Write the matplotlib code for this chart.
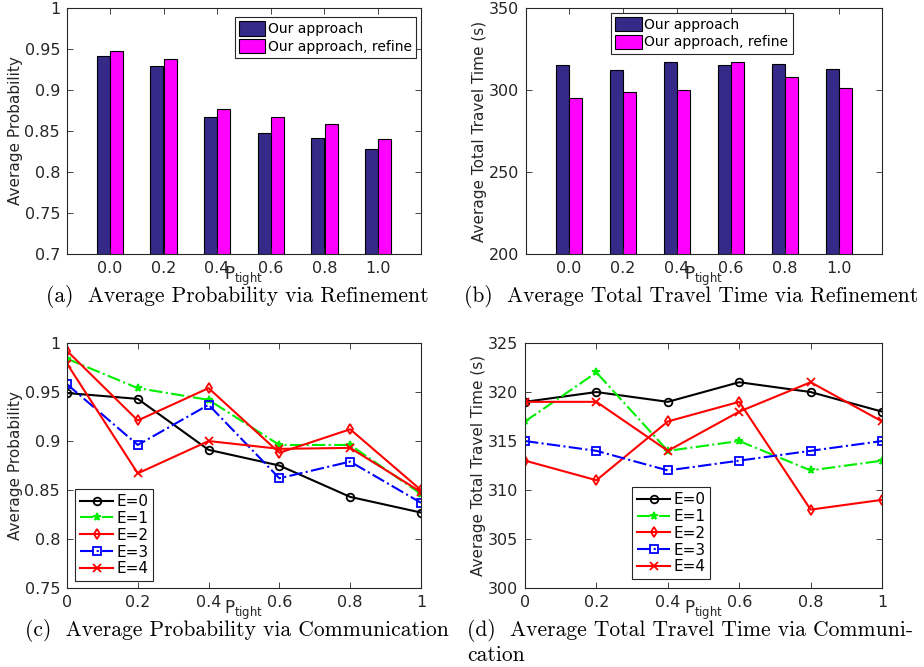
import numpy as np
import matplotlib
matplotlib.use("Agg")
import matplotlib.pyplot as plt

plt.rcParams['font.family'] = ['DejaVu Sans']
plt.rcParams['mathtext.default'] = 'regular'

# data
cats = ['0.0', '0.2', '0.4', '0.6', '0.8', '1.0']
prob_ours = [0.941, 0.929, 0.867, 0.847, 0.842, 0.828]
prob_refine = [0.947, 0.938, 0.877, 0.867, 0.858, 0.840]
time_ours = [315, 312, 317, 315, 316, 313]
time_refine = [295, 299, 300, 317, 308, 301]

p_tight = [0, 0.2, 0.4, 0.6, 0.8, 1]
prob_E = {
    'E=0': [0.949, 0.943, 0.891, 0.875, 0.843, 0.827],
    'E=1': [0.984, 0.954, 0.942, 0.896, 0.896, 0.846],
    'E=2': [0.992, 0.921, 0.954, 0.888, 0.912, 0.850],
    'E=3': [0.958, 0.896, 0.937, 0.862, 0.879, 0.837],
    'E=4': [0.979, 0.867, 0.900, 0.892, 0.893, 0.848],
}
time_E = {
    'E=0': [319, 320, 319, 321, 320, 318],
    'E=1': [317, 322, 314, 315, 312, 313],
    'E=2': [313, 311, 317, 319, 308, 309],
    'E=3': [315, 314, 312, 313, 314, 315],
    'E=4': [319, 319, 314, 318, 321, 317],
}
styles = {
    'E=0': dict(color='k', ls='-', marker='o', mfc='none'),
    'E=1': dict(color='#00ee00', ls='-.', marker='*', mfc='#00ee00'),
    'E=2': dict(color='#ff0000', ls='-', marker='d', mfc='none'),
    'E=3': dict(color='#0000ff', ls='-.', marker='s', mfc='none'),
    'E=4': dict(color='#ff0000', ls='-', marker='x', mfc='none'),
}

axcol = '#262626'
fig = plt.figure(figsize=(9.24, 6.67), dpi=100)
ax_a = fig.add_axes([0.0725, 0.6192, 0.3831, 0.3688])
ax_b = fig.add_axes([0.5693, 0.6192, 0.3853, 0.3688])
ax_c = fig.add_axes([0.0725, 0.1184, 0.3831, 0.3673])
ax_d = fig.add_axes([0.5682, 0.1184, 0.3864, 0.3673])


def style_axes(ax):
    for s in ax.spines.values():
        s.set_color(axcol)
        s.set_linewidth(0.8)
    ax.tick_params(direction='in', top=True, right=True, length=4,
                   width=0.6, colors=axcol, labelsize=11.5, pad=5)
    ax.text(0.5, -0.045, 'P$_{tight}$', transform=ax.transAxes,
            ha='center', va='top', fontsize=12, color=axcol)


def bar_panel(ax, ours, refine, ylim, yticks, ylabel, legloc, anchor):
    x = np.arange(1, len(cats) + 1)
    ax.bar(x - 0.125, ours, 0.24, color='#352a87', edgecolor='k',
           linewidth=0.8, label='Our approach')
    ax.bar(x + 0.125, refine, 0.24, color='#ff00ff', edgecolor='k',
           linewidth=0.8, label='Our approach, refine')
    ax.set_xlim(0.2, 6.8)
    ax.set_ylim(*ylim)
    ax.set_xticks(x)
    ax.set_xticklabels(cats)
    ax.set_yticks(yticks)
    ax.set_yticklabels([('%g' % v) for v in yticks])
    ax.set_ylabel(ylabel, fontsize=11, color=axcol, labelpad=1)
    style_axes(ax)
    leg = ax.legend(loc=legloc, bbox_to_anchor=anchor, fontsize=10,
                    handlelength=1.9, handleheight=1.2, handletextpad=0.2,
                    labelspacing=0.2, borderpad=0.3, borderaxespad=0,
                    fancybox=False, framealpha=1)
    leg.get_frame().set_edgecolor(axcol)
    leg.get_frame().set_linewidth(0.8)


def line_panel(ax, data, ylim, yticks, ylabel, anchor):
    for name, vals in data.items():
        ax.plot(p_tight, vals, lw=1.5, ms=5.5, mew=1.3, label=name,
                **styles[name])
    ax.set_xlim(0, 1)
    ax.set_ylim(*ylim)
    ax.set_xticks(p_tight)
    ax.set_xticklabels(['0', '0.2', '0.4', '0.6', '0.8', '1'])
    ax.set_yticks(yticks)
    ax.set_yticklabels([('%g' % v) for v in yticks])
    ax.set_ylabel(ylabel, fontsize=11, color=axcol, labelpad=1)
    style_axes(ax)
    leg = ax.legend(loc='lower left', bbox_to_anchor=anchor, fontsize=11,
                    handlelength=2.2, handletextpad=0.2, labelspacing=0.12,
                    borderpad=0.3, borderaxespad=0, fancybox=False,
                    framealpha=1)
    leg.get_frame().set_edgecolor(axcol)
    leg.get_frame().set_linewidth(0.8)


bar_panel(ax_a, prob_ours, prob_refine, (0.7, 1.0),
          [0.7, 0.75, 0.8, 0.85, 0.9, 0.95, 1.0], 'Average Probability',
          'upper right', (0.986, 0.963))
bar_panel(ax_b, time_ours, time_refine, (200, 350),
          [200, 250, 300, 350], 'Average Total Travel Time (s)',
          'upper left', (0.239, 0.98))
line_panel(ax_c, prob_E, (0.75, 1.0), [0.75, 0.8, 0.85, 0.9, 0.95, 1.0],
           'Average Probability', (0.023, 0.029))
line_panel(ax_d, time_E, (300, 325), [300, 305, 310, 315, 320, 325],
           'Average Total Travel Time (s)', (0.30, 0.037))

cap = dict(family='cmr10', fontsize=15.5, color='k', va='center')
fig.text(237 / 924, 1 - 297 / 667,
         '(a)  Average Probability via Refinement', ha='center', **cap)
fig.text(691 / 924, 1 - 297 / 667,
         '(b)  Average Total Travel Time via Refinement', ha='center', **cap)
fig.text(237 / 924, 1 - 631 / 667,
         '(c)  Average Probability via Communication', ha='center', **cap)
fig.text(467 / 924, 1 - 631 / 667,
         '(d)  Average Total Travel Time via Communi-', ha='left', **cap)
fig.text(467 / 924, 1 - 655 / 667, 'cation', ha='left', **cap)

fig.savefig('out.png', dpi=100)
